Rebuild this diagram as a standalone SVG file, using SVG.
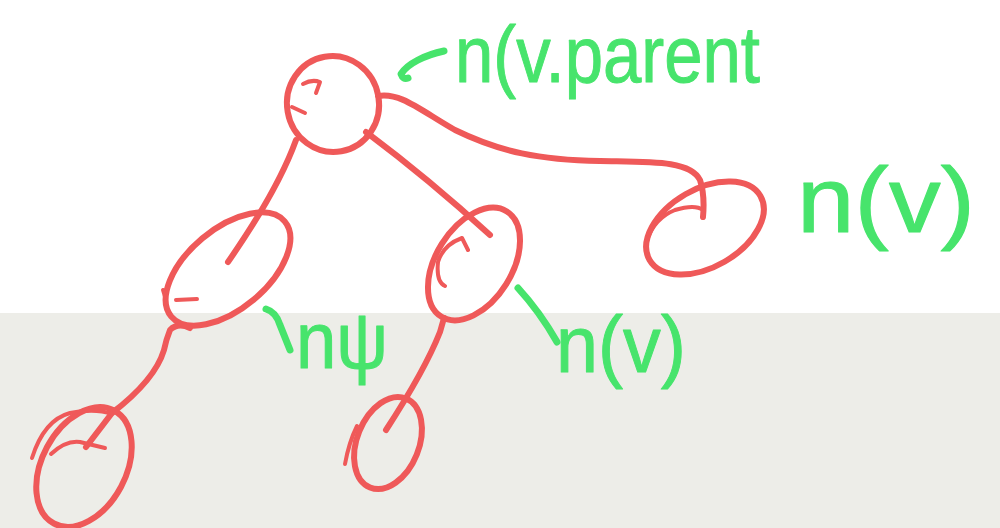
<svg xmlns="http://www.w3.org/2000/svg" width="1000" height="528" viewBox="0 0 1000 528">
  <style>
    .ink { fill: none; stroke: #EF5959; stroke-width: 6; stroke-linecap: round; stroke-linejoin: round; }
    .thin { stroke-width: 4; }
    .note { fill: none; stroke: #47E46C; stroke-width: 7; stroke-linecap: round; stroke-linejoin: round; }
    .hand { fill: #47E46C; stroke: #47E46C; stroke-width: 1; stroke-linejoin: round; font-family: "Liberation Sans", "DejaVu Sans", sans-serif; }
  </style>

  <!-- paper: white upper sheet, grey lower sheet -->
  <rect x="0" y="0" width="1000" height="528" fill="#FFFFFF"/>
  <rect x="0" y="313" width="1000" height="215" fill="#EDEDE8"/>

  <!-- tree edges -->
  <g id="connectors">
    <path class="ink" d="M296,140 Q278,190 228,262"/>
    <path class="ink" d="M366,132 Q430,180 490,235"/>
    <path class="ink" d="M378,96 C400,92 420,110 455,130 C500,152 540,160 600,161 C650,162 690,160 700,180 Q705,195 703,217"/>
    <path class="ink" d="M190,328 Q178,322 170,330 Q166,340 164,350 Q155,380 112,413 L86,447"/>
    <path class="ink" d="M444,318 L440,332 Q425,370 386,430"/>
  </g>

  <!-- root -->
  <g id="node-root">
    <ellipse class="ink" cx="333" cy="104" rx="46" ry="48" transform="rotate(-10 333 104)"/>
    <path class="ink thin" d="M303,84 Q312,79 320,82 L316,93"/>
    <path class="ink thin" d="M292,107 L305,113"/>
  </g>

  <!-- left child -->
  <g id="node-left">
    <ellipse class="ink" cx="228" cy="269" rx="74" ry="40" transform="rotate(-40 228 269)"/>
    <path class="ink thin" d="M176,300 L197,299"/>
    <path class="ink thin" d="M163,290 L166,300"/>
  </g>

  <!-- middle child -->
  <g id="node-middle">
    <ellipse class="ink" cx="474" cy="264" rx="62" ry="38" transform="rotate(-58 474 264)"/>
    <path class="ink thin" d="M445,286 Q436,282 438,262 Q443,245 462,238 L468,250"/>
  </g>

  <!-- right child -->
  <g id="node-right">
    <ellipse class="ink" cx="705" cy="228" rx="64" ry="39" transform="rotate(-30 705 228)"/>
    <path class="ink thin" d="M647,240 Q655,218 675,210 Q695,204 703,210 L703,218"/>
  </g>

  <!-- bottom-left grandchild -->
  <g id="node-bottom-left">
    <ellipse class="ink" cx="84" cy="467" rx="64" ry="42" transform="rotate(-62 84 467)"/>
    <path class="ink thin" d="M32,458 Q44,420 70,413 Q95,408 112,414"/>
    <path class="ink thin" d="M51,454 Q66,440 80,442 L105,448"/>
  </g>

  <!-- bottom-middle grandchild -->
  <g id="node-bottom-middle">
    <ellipse class="ink" cx="388" cy="443" rx="48" ry="31" transform="rotate(-68 388 443)"/>
    <path class="ink thin" d="M357,426 Q349,442 345,464"/>
  </g>

  <!-- annotations -->
  <g id="labels">
    <path class="note" d="M444,51 C425,55 407,64 401,74 Q403,80 408,78"/>
    <text class="hand" x="455" y="82" font-size="80" textLength="305" lengthAdjust="spacingAndGlyphs">n(v.parent</text>

    <text class="hand" x="797" y="232" font-size="92" textLength="178" lengthAdjust="spacingAndGlyphs">n(v)</text>

    <path class="note" d="M266,309 Q276,312 280,325 L290,350"/>
    <text class="hand" x="296" y="368" font-size="80" textLength="92" lengthAdjust="spacingAndGlyphs">nψ</text>

    <path class="note" d="M518,288 Q540,312 557,342"/>
    <text class="hand" x="556" y="372" font-size="80" textLength="130" lengthAdjust="spacingAndGlyphs">n(v)</text>
  </g>
</svg>
